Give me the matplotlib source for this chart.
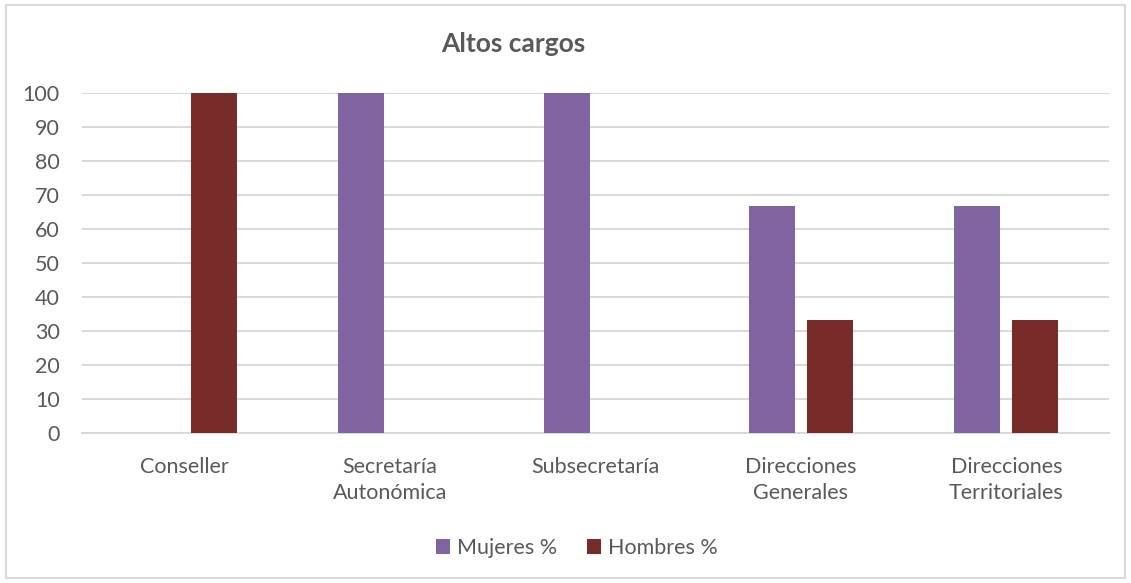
import matplotlib
matplotlib.use("Agg")
import matplotlib.pyplot as plt
import numpy as np
from matplotlib.patches import Rectangle

categories = ["Conseller", "Secretaría\nAutonómica", "Subsecretaría",
              "Direcciones\nGenerales", "Direcciones\nTerritoriales"]
mujeres = [0, 100, 100, 66.67, 66.67]
hombres = [100, 0, 0, 33.33, 33.33]
series_names = ["Mujeres %", "Hombres %"]

PURPLE = "#8064A2"
RED = "#772C2A"
TEXT = "#595959"
GRID = "#D9D9D9"

plt.rcParams["font.family"] = ["Lato", "DejaVu Sans"]

fig = plt.figure(figsize=(11.31, 5.83), dpi=100)
ax = fig.add_axes([0.0725, 0.2573, 0.908, 0.5832])

x = np.arange(len(categories))
w = 0.224
off = 0.141
ax.bar(x - off, mujeres, w, color=PURPLE, label=series_names[0], zorder=3)
ax.bar(x + off, hombres, w, color=RED, label=series_names[1], zorder=3)

ax.set_xlim(-0.5, len(categories) - 0.5)
ax.set_ylim(0, 100)
ax.set_yticks(range(0, 101, 10))
ax.yaxis.grid(True, color=GRID, linewidth=1.4, zorder=0)
ax.set_axisbelow(True)
for s in ["top", "right", "left"]:
    ax.spines[s].set_visible(False)
ax.spines["bottom"].set_color(GRID)
ax.spines["bottom"].set_linewidth(1.4)
ax.tick_params(axis="both", length=0, labelsize=15.5, colors=TEXT)
ax.tick_params(axis="y", pad=16)
ax.tick_params(axis="x", pad=17)
ax.set_xticks(x)
ax.set_xticklabels(categories, linespacing=1.42)

fig.text(0.4536, 0.925, "Altos cargos", fontsize=19, fontweight="bold",
         color=TEXT, ha="center", va="center")

leg = fig.legend(loc="center", bbox_to_anchor=(0.51, 0.060), ncol=2,
                 frameon=False, fontsize=15.5, handlelength=0.65,
                 handleheight=0.65, handletextpad=0.3, columnspacing=1.4)
for t in leg.get_texts():
    t.set_color(TEXT)

fig.add_artist(Rectangle((0.005, 0.008), 0.99, 0.984, transform=fig.transFigure,
                         fill=False, edgecolor=GRID, linewidth=1.5))

fig.savefig("out.png", dpi=100, facecolor="white")
